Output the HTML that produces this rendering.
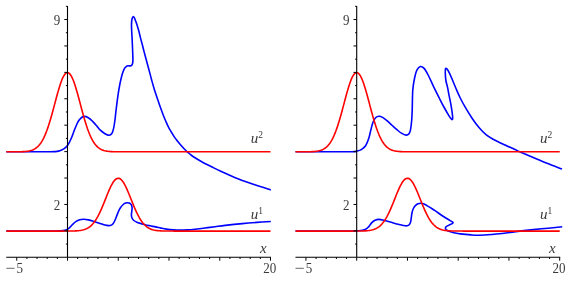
<!DOCTYPE html>
<html><head><meta charset="utf-8"><title>plot</title>
<style>
html,body{margin:0;padding:0;background:#fff;}
body{width:575px;height:282px;overflow:hidden;}
svg{display:block;will-change:transform;}
text{font-family:"Liberation Serif",serif;fill:#3a3a3a;}
.n{font-size:14.5px;}
.i{font-size:15px;font-style:italic;}
.s{font-size:9.5px;font-style:normal;}
</style></head><body>
<svg width="575" height="282" viewBox="0 0 575 282">
<rect width="575" height="282" fill="#fff"/>
<path d="M6.30 151.70 C10.25 151.70 22.72 151.70 30.00 151.70 C37.28 151.70 45.25 151.80 50.00 151.70 C54.75 151.60 56.20 151.57 58.50 151.10 C60.80 150.63 62.27 149.87 63.80 148.90 C65.33 147.93 66.45 147.07 67.70 145.30 C68.95 143.53 70.17 140.88 71.30 138.30 C72.43 135.72 73.43 132.47 74.50 129.80 C75.57 127.13 76.63 124.25 77.70 122.30 C78.77 120.35 79.85 119.08 80.90 118.10 C81.95 117.12 82.77 116.47 84.00 116.40 C85.23 116.33 86.87 116.88 88.30 117.70 C89.73 118.52 91.18 119.93 92.60 121.30 C94.02 122.67 95.52 124.42 96.80 125.90 C98.08 127.38 98.93 128.90 100.30 130.20 C101.67 131.50 103.55 132.87 105.00 133.70 C106.45 134.53 107.83 135.28 109.00 135.20 C110.17 135.12 111.23 134.33 112.00 133.20 C112.77 132.07 113.12 130.52 113.60 128.40 C114.08 126.28 114.52 123.30 114.90 120.50 C115.28 117.70 115.55 114.57 115.90 111.60 C116.25 108.63 116.62 105.65 117.00 102.70 C117.38 99.75 117.72 97.02 118.20 93.90 C118.68 90.78 119.38 86.70 119.90 84.00 C120.42 81.30 120.83 79.58 121.30 77.70 C121.77 75.82 122.18 74.20 122.70 72.70 C123.22 71.20 123.82 69.72 124.40 68.70 C124.98 67.68 125.58 67.08 126.20 66.60 C126.82 66.12 127.45 65.92 128.10 65.80 C128.75 65.68 129.53 65.95 130.10 65.90 C130.67 65.85 131.10 65.85 131.50 65.50 C131.90 65.15 132.27 64.62 132.50 63.80 C132.73 62.98 132.85 61.95 132.90 60.60 C132.95 59.25 132.85 57.47 132.80 55.70 C132.75 53.93 132.72 52.88 132.60 50.00 C132.48 47.12 132.25 41.52 132.10 38.40 C131.95 35.28 131.80 33.67 131.70 31.30 C131.60 28.93 131.45 26.25 131.50 24.20 C131.55 22.15 131.72 20.27 132.00 19.00 C132.28 17.73 132.80 16.80 133.20 16.60 C133.60 16.40 134.07 17.25 134.40 17.80 C134.73 18.35 134.80 18.83 135.20 19.90 C135.60 20.97 136.18 22.30 136.80 24.20 C137.42 26.10 138.27 28.93 138.90 31.30 C139.53 33.67 140.02 36.12 140.60 38.40 C141.18 40.68 141.80 42.72 142.40 45.00 C143.00 47.28 143.58 49.73 144.20 52.10 C144.82 54.47 145.47 56.83 146.10 59.20 C146.73 61.57 147.37 63.93 148.00 66.30 C148.63 68.67 149.28 71.08 149.90 73.40 C150.52 75.72 150.98 77.62 151.70 80.20 C152.42 82.78 153.30 85.98 154.20 88.90 C155.10 91.82 156.12 94.75 157.10 97.70 C158.08 100.65 159.07 103.68 160.10 106.60 C161.13 109.52 162.38 112.85 163.30 115.20 C164.22 117.55 164.73 118.72 165.60 120.70 C166.47 122.68 167.55 125.22 168.50 127.10 C169.45 128.98 170.37 130.42 171.30 132.00 C172.23 133.58 173.15 135.18 174.10 136.60 C175.05 138.02 175.93 139.13 177.00 140.50 C178.07 141.87 179.32 143.42 180.50 144.80 C181.68 146.18 183.03 147.67 184.10 148.80 C185.17 149.93 185.95 150.73 186.90 151.60 C187.85 152.47 188.78 153.18 189.80 154.00 C190.82 154.82 190.87 155.13 193.00 156.50 C195.13 157.87 199.23 160.35 202.60 162.20 C205.97 164.05 210.17 166.10 213.20 167.60 C216.23 169.10 216.57 169.30 220.80 171.20 C225.03 173.10 232.68 176.65 238.60 179.00 C244.52 181.35 250.93 183.48 256.30 185.30 C261.67 187.12 268.38 189.13 270.80 189.90" stroke="#00f" stroke-width="1.6" fill="none" stroke-linejoin="round"/>
<path d="M6.30 231.00 C10.25 231.00 21.88 230.98 30.00 231.00 C38.12 231.02 49.18 231.22 55.00 231.10 C60.82 230.98 62.62 230.75 64.90 230.30 C67.18 229.85 67.45 229.35 68.70 228.40 C69.95 227.45 71.17 225.77 72.40 224.60 C73.63 223.43 74.87 222.22 76.10 221.40 C77.33 220.58 78.55 220.07 79.80 219.70 C81.05 219.33 82.15 219.17 83.60 219.20 C85.05 219.23 86.65 219.48 88.50 219.90 C90.35 220.32 92.78 221.12 94.70 221.70 C96.62 222.28 98.28 222.83 100.00 223.40 C101.72 223.97 103.58 224.73 105.00 225.10 C106.42 225.47 107.43 225.60 108.50 225.60 C109.57 225.60 110.57 225.52 111.40 225.10 C112.23 224.68 112.87 223.98 113.50 223.10 C114.13 222.22 114.65 221.05 115.20 219.80 C115.75 218.55 116.25 217.02 116.80 215.60 C117.35 214.18 117.87 212.65 118.50 211.30 C119.13 209.95 119.82 208.63 120.60 207.50 C121.38 206.37 122.37 205.23 123.20 204.50 C124.03 203.77 124.85 203.40 125.60 203.10 C126.35 202.80 127.00 202.68 127.70 202.70 C128.40 202.72 129.18 202.83 129.80 203.20 C130.42 203.57 131.02 204.13 131.40 204.90 C131.78 205.67 132.03 206.73 132.10 207.80 C132.17 208.87 131.92 210.12 131.80 211.30 C131.68 212.48 131.37 213.78 131.40 214.90 C131.43 216.02 131.60 217.07 132.00 218.00 C132.40 218.93 132.98 219.80 133.80 220.50 C134.62 221.20 135.78 221.72 136.90 222.20 C138.02 222.68 139.15 222.98 140.50 223.40 C141.85 223.82 143.42 224.30 145.00 224.70 C146.58 225.10 148.23 225.43 150.00 225.80 C151.77 226.17 153.77 226.52 155.60 226.90 C157.43 227.28 159.22 227.73 161.00 228.10 C162.78 228.47 164.18 228.80 166.30 229.10 C168.42 229.40 171.40 229.72 173.70 229.90 C176.00 230.08 177.78 230.15 180.10 230.15 C182.42 230.15 185.12 230.06 187.60 229.90 C190.08 229.74 192.10 229.52 195.00 229.20 C197.90 228.88 201.67 228.42 205.00 228.00 C208.33 227.58 211.63 227.13 215.00 226.70 C218.37 226.27 220.65 225.92 225.20 225.40 C229.75 224.88 237.02 224.10 242.30 223.60 C247.58 223.10 252.15 222.75 256.90 222.40 C261.65 222.05 268.48 221.65 270.80 221.50" stroke="#00f" stroke-width="1.6" fill="none" stroke-linejoin="round"/>
<path d="M6.30 151.82 L7.31 151.82 L8.33 151.82 L9.34 151.82 L10.36 151.82 L11.38 151.82 L12.39 151.81 L13.41 151.81 L14.42 151.81 L15.44 151.80 L16.46 151.79 L17.47 151.78 L18.49 151.77 L19.51 151.75 L20.52 151.73 L21.54 151.70 L22.55 151.66 L23.57 151.61 L24.59 151.55 L25.60 151.47 L26.62 151.36 L27.64 151.23 L28.65 151.06 L29.67 150.86 L30.68 150.60 L31.70 150.29 L32.72 149.92 L33.73 149.46 L34.75 148.91 L35.76 148.26 L36.78 147.49 L37.80 146.59 L38.81 145.54 L39.83 144.33 L40.85 142.94 L41.86 141.36 L42.88 139.58 L43.89 137.59 L44.91 135.37 L45.93 132.93 L46.94 130.27 L47.96 127.39 L48.97 124.29 L49.99 121.00 L51.01 117.54 L52.02 113.93 L53.04 110.21 L54.06 106.41 L55.07 102.58 L56.09 98.76 L57.10 95.01 L58.12 91.38 L59.14 87.93 L60.15 84.71 L61.17 81.77 L62.18 79.17 L63.20 76.95 L64.22 75.15 L65.23 73.80 L66.25 72.94 L67.27 72.57 L68.28 72.71 L69.30 73.35 L70.31 74.47 L71.33 76.06 L72.35 78.09 L73.36 80.53 L74.38 83.31 L75.40 86.41 L76.41 89.76 L77.43 93.32 L78.44 97.02 L79.46 100.81 L80.48 104.64 L81.49 108.46 L82.51 112.23 L83.52 115.89 L84.54 119.43 L85.56 122.80 L86.57 125.98 L87.59 128.97 L88.61 131.73 L89.62 134.27 L90.64 136.59 L91.65 138.69 L92.67 140.57 L93.69 142.24 L94.70 143.71 L95.72 145.01 L96.73 146.13 L97.75 147.10 L98.77 147.92 L99.78 148.63 L100.80 149.22 L101.82 149.72 L102.83 150.13 L103.85 150.47 L104.86 150.75 L105.88 150.97 L106.90 151.16 L107.91 151.30 L108.93 151.42 L109.94 151.51 L110.96 151.58 L111.98 151.64 L112.99 151.69 L114.01 151.72 L115.03 151.74 L116.04 151.76 L117.06 151.78 L118.07 151.79 L119.09 151.80 L120.11 151.80 L121.12 151.81 L122.14 151.81 L123.16 151.81 L124.17 151.82 L125.19 151.82 L126.20 151.82 L127.22 151.82 L128.24 151.82 L129.25 151.82 L130.27 151.82 L131.28 151.82 L132.30 151.82 L133.32 151.82 L134.33 151.82 L135.35 151.82 L136.37 151.82 L137.38 151.82 L138.40 151.82 L139.41 151.82 L140.43 151.82 L141.45 151.82 L142.46 151.82 L143.48 151.82 L144.49 151.82 L145.51 151.82 L146.53 151.82 L147.54 151.82 L148.56 151.82 L149.58 151.82 L150.59 151.82 L151.61 151.82 L152.62 151.82 L153.64 151.82 L154.66 151.82 L155.67 151.82 L156.69 151.82 L157.71 151.82 L158.72 151.82 L159.74 151.82 L160.75 151.82 L161.77 151.82 L162.79 151.82 L163.80 151.82 L164.82 151.82 L165.83 151.82 L166.85 151.82 L167.87 151.82 L168.88 151.82 L169.90 151.82 L170.92 151.82 L171.93 151.82 L172.95 151.82 L173.96 151.82 L174.98 151.82 L176.00 151.82 L177.01 151.82 L178.03 151.82 L179.04 151.82 L180.06 151.82 L181.08 151.82 L182.09 151.82 L183.11 151.82 L184.13 151.82 L185.14 151.82 L186.16 151.82 L187.17 151.82 L188.19 151.82 L189.21 151.82 L190.22 151.82 L191.24 151.82 L192.25 151.82 L193.27 151.82 L194.29 151.82 L195.30 151.82 L196.32 151.82 L197.34 151.82 L198.35 151.82 L199.37 151.82 L200.38 151.82 L201.40 151.82 L202.42 151.82 L203.43 151.82 L204.45 151.82 L205.47 151.82 L206.48 151.82 L207.50 151.82 L208.51 151.82 L209.53 151.82 L210.55 151.82 L211.56 151.82 L212.58 151.82 L213.59 151.82 L214.61 151.82 L215.63 151.82 L216.64 151.82 L217.66 151.82 L218.68 151.82 L219.69 151.82 L220.71 151.82 L221.72 151.82 L222.74 151.82 L223.76 151.82 L224.77 151.82 L225.79 151.82 L226.80 151.82 L227.82 151.82 L228.84 151.82 L229.85 151.82 L230.87 151.82 L231.89 151.82 L232.90 151.82 L233.92 151.82 L234.93 151.82 L235.95 151.82 L236.97 151.82 L237.98 151.82 L239.00 151.82 L240.01 151.82 L241.03 151.82 L242.05 151.82 L243.06 151.82 L244.08 151.82 L245.10 151.82 L246.11 151.82 L247.13 151.82 L248.14 151.82 L249.16 151.82 L250.18 151.82 L251.19 151.82 L252.21 151.82 L253.23 151.82 L254.24 151.82 L255.26 151.82 L256.27 151.82 L257.29 151.82 L258.31 151.82 L259.32 151.82 L260.34 151.82 L261.35 151.82 L262.37 151.82 L263.39 151.82 L264.40 151.82 L265.42 151.82 L266.44 151.82 L267.45 151.82 L268.47 151.82 L269.48 151.82 L270.50 151.82" stroke="#f00" stroke-width="1.6" fill="none"/>
<path d="M6.30 231.08 L7.31 231.08 L8.33 231.08 L9.34 231.08 L10.36 231.08 L11.38 231.08 L12.39 231.08 L13.41 231.08 L14.42 231.08 L15.44 231.08 L16.46 231.08 L17.47 231.08 L18.49 231.08 L19.51 231.08 L20.52 231.08 L21.54 231.08 L22.55 231.08 L23.57 231.08 L24.59 231.08 L25.60 231.08 L26.62 231.08 L27.64 231.08 L28.65 231.08 L29.67 231.08 L30.68 231.08 L31.70 231.08 L32.72 231.08 L33.73 231.08 L34.75 231.08 L35.76 231.08 L36.78 231.08 L37.80 231.08 L38.81 231.08 L39.83 231.08 L40.85 231.08 L41.86 231.08 L42.88 231.08 L43.89 231.08 L44.91 231.08 L45.93 231.08 L46.94 231.08 L47.96 231.08 L48.97 231.08 L49.99 231.08 L51.01 231.08 L52.02 231.08 L53.04 231.08 L54.06 231.08 L55.07 231.08 L56.09 231.08 L57.10 231.08 L58.12 231.08 L59.14 231.08 L60.15 231.08 L61.17 231.08 L62.18 231.08 L63.20 231.08 L64.22 231.07 L65.23 231.07 L66.25 231.07 L67.27 231.06 L68.28 231.06 L69.30 231.05 L70.31 231.04 L71.33 231.02 L72.35 231.00 L73.36 230.97 L74.38 230.94 L75.40 230.90 L76.41 230.84 L77.43 230.77 L78.44 230.68 L79.46 230.57 L80.48 230.43 L81.49 230.26 L82.51 230.05 L83.52 229.79 L84.54 229.49 L85.56 229.12 L86.57 228.68 L87.59 228.16 L88.61 227.56 L89.62 226.85 L90.64 226.04 L91.65 225.11 L92.67 224.04 L93.69 222.85 L94.70 221.51 L95.72 220.02 L96.73 218.39 L97.75 216.61 L98.77 214.67 L99.78 212.60 L100.80 210.41 L101.82 208.09 L102.83 205.68 L103.85 203.19 L104.86 200.66 L105.88 198.10 L106.90 195.56 L107.91 193.07 L108.93 190.65 L109.94 188.36 L110.96 186.22 L111.98 184.27 L112.99 182.55 L114.01 181.09 L115.03 179.91 L116.04 179.03 L117.06 178.47 L118.07 178.25 L119.09 178.35 L120.11 178.80 L121.12 179.57 L122.14 180.65 L123.16 182.02 L124.17 183.65 L125.19 185.52 L126.20 187.60 L127.22 189.84 L128.24 192.22 L129.25 194.69 L130.27 197.22 L131.28 199.78 L132.30 202.32 L133.32 204.83 L134.33 207.27 L135.35 209.62 L136.37 211.86 L137.38 213.97 L138.40 215.95 L139.41 217.79 L140.43 219.48 L141.45 221.01 L142.46 222.40 L143.48 223.65 L144.49 224.75 L145.51 225.73 L146.53 226.58 L147.54 227.33 L148.56 227.96 L149.58 228.51 L150.59 228.98 L151.61 229.37 L152.62 229.69 L153.64 229.97 L154.66 230.19 L155.67 230.37 L156.69 230.52 L157.71 230.64 L158.72 230.74 L159.74 230.82 L160.75 230.88 L161.77 230.93 L162.79 230.96 L163.80 230.99 L164.82 231.01 L165.83 231.03 L166.85 231.04 L167.87 231.05 L168.88 231.06 L169.90 231.07 L170.92 231.07 L171.93 231.07 L172.95 231.07 L173.96 231.08 L174.98 231.08 L176.00 231.08 L177.01 231.08 L178.03 231.08 L179.04 231.08 L180.06 231.08 L181.08 231.08 L182.09 231.08 L183.11 231.08 L184.13 231.08 L185.14 231.08 L186.16 231.08 L187.17 231.08 L188.19 231.08 L189.21 231.08 L190.22 231.08 L191.24 231.08 L192.25 231.08 L193.27 231.08 L194.29 231.08 L195.30 231.08 L196.32 231.08 L197.34 231.08 L198.35 231.08 L199.37 231.08 L200.38 231.08 L201.40 231.08 L202.42 231.08 L203.43 231.08 L204.45 231.08 L205.47 231.08 L206.48 231.08 L207.50 231.08 L208.51 231.08 L209.53 231.08 L210.55 231.08 L211.56 231.08 L212.58 231.08 L213.59 231.08 L214.61 231.08 L215.63 231.08 L216.64 231.08 L217.66 231.08 L218.68 231.08 L219.69 231.08 L220.71 231.08 L221.72 231.08 L222.74 231.08 L223.76 231.08 L224.77 231.08 L225.79 231.08 L226.80 231.08 L227.82 231.08 L228.84 231.08 L229.85 231.08 L230.87 231.08 L231.89 231.08 L232.90 231.08 L233.92 231.08 L234.93 231.08 L235.95 231.08 L236.97 231.08 L237.98 231.08 L239.00 231.08 L240.01 231.08 L241.03 231.08 L242.05 231.08 L243.06 231.08 L244.08 231.08 L245.10 231.08 L246.11 231.08 L247.13 231.08 L248.14 231.08 L249.16 231.08 L250.18 231.08 L251.19 231.08 L252.21 231.08 L253.23 231.08 L254.24 231.08 L255.26 231.08 L256.27 231.08 L257.29 231.08 L258.31 231.08 L259.32 231.08 L260.34 231.08 L261.35 231.08 L262.37 231.08 L263.39 231.08 L264.40 231.08 L265.42 231.08 L266.44 231.08 L267.45 231.08 L268.47 231.08 L269.48 231.08 L270.50 231.08" stroke="#f00" stroke-width="1.6" fill="none"/>
<path d="M6.25 257.3H271.00 M67.50 6V257.3" stroke="#000" stroke-width="1.1" fill="none"/>
<path d="M16.75 257.3v3.4M26.90 257.3v1.7M37.05 257.3v1.7M47.20 257.3v1.7M57.35 257.3v1.7M67.50 257.3v3.4M77.65 257.3v1.7M87.80 257.3v1.7M97.95 257.3v1.7M108.10 257.3v1.7M118.25 257.3v3.4M128.40 257.3v1.7M138.55 257.3v1.7M148.70 257.3v1.7M158.85 257.3v1.7M169.00 257.3v3.4M179.15 257.3v1.7M189.30 257.3v1.7M199.45 257.3v1.7M209.60 257.3v1.7M219.75 257.3v3.4M229.90 257.3v1.7M240.05 257.3v1.7M250.20 257.3v1.7M260.35 257.3v1.7M270.50 257.3v3.4M67.50 244.09h-1.6M67.50 230.88h-3.2M67.50 217.67h-1.6M67.50 204.46h-3.2M67.50 191.25h-1.6M67.50 178.04h-3.2M67.50 164.83h-1.6M67.50 151.62h-3.2M67.50 138.41h-1.6M67.50 125.20h-3.2M67.50 111.99h-1.6M67.50 98.78h-3.2M67.50 85.57h-1.6M67.50 72.36h-3.2M67.50 59.15h-1.6M67.50 45.94h-3.2M67.50 32.73h-1.6M67.50 19.52h-3.2M67.50 6.31h-1.6" stroke="#000" stroke-width="1" fill="none"/>
<text transform="translate(57.00 24.60) scale(0.9 1)" class="n" text-anchor="middle">9</text>
<text transform="translate(57.00 210.20) scale(0.9 1)" class="n" text-anchor="middle">2</text>
<path d="M6.30 268.3h8.3" stroke="#444" stroke-width="0.8" fill="none"/>
<text transform="translate(19.70 272.70) scale(0.9 1)" class="n" text-anchor="middle">5</text>
<text transform="translate(269.80 272.70) scale(0.9 1)" class="n" text-anchor="middle">20</text>
<text x="259.9" y="252.6" class="i">x</text>
<text x="250.8" y="143" class="i">u<tspan class="s" dy="-4.8">2</tspan></text>
<text x="250.8" y="219.4" class="i">u<tspan class="s" dy="-5.4">1</tspan></text>
<path d="M295.50 151.70 C299.58 151.70 312.75 151.70 320.00 151.70 C327.25 151.70 333.70 151.70 339.00 151.70 C344.30 151.70 348.78 151.80 351.80 151.70 C354.82 151.60 355.52 151.45 357.10 151.10 C358.68 150.75 359.88 150.50 361.30 149.60 C362.72 148.70 364.35 147.58 365.60 145.70 C366.85 143.82 367.92 140.95 368.80 138.30 C369.68 135.65 370.20 132.47 370.90 129.80 C371.60 127.13 372.22 124.32 373.00 122.30 C373.78 120.28 374.60 118.72 375.60 117.70 C376.60 116.68 377.83 116.25 379.00 116.20 C380.17 116.15 381.28 116.67 382.60 117.40 C383.92 118.13 385.30 119.25 386.90 120.60 C388.50 121.95 390.43 123.90 392.20 125.50 C393.97 127.10 395.90 128.88 397.50 130.20 C399.10 131.52 400.38 132.58 401.80 133.40 C403.22 134.22 404.83 135.00 406.00 135.10 C407.17 135.20 408.05 134.88 408.80 134.00 C409.55 133.12 410.03 131.92 410.50 129.80 C410.97 127.68 411.32 124.50 411.60 121.30 C411.88 118.10 412.00 115.87 412.20 110.60 C412.40 105.33 412.37 95.30 412.80 89.70 C413.23 84.10 414.10 80.30 414.80 77.00 C415.50 73.70 416.07 71.65 417.00 69.90 C417.93 68.15 419.22 66.75 420.40 66.50 C421.58 66.25 422.77 66.90 424.10 68.40 C425.43 69.90 426.80 72.42 428.40 75.50 C430.00 78.58 431.85 83.07 433.70 86.90 C435.55 90.73 437.80 95.15 439.50 98.50 C441.20 101.85 442.42 104.28 443.90 107.00 C445.38 109.72 447.17 112.78 448.40 114.80 C449.63 116.82 450.63 118.32 451.30 119.10 C451.97 119.88 452.17 119.73 452.40 119.50 C452.63 119.27 452.77 119.07 452.70 117.70 C452.63 116.33 452.35 113.78 452.00 111.30 C451.65 108.82 451.08 105.40 450.60 102.80 C450.12 100.20 449.60 98.23 449.10 95.70 C448.60 93.17 448.13 90.13 447.60 87.60 C447.07 85.07 446.28 82.87 445.90 80.50 C445.52 78.13 445.35 75.40 445.30 73.40 C445.25 71.40 445.20 69.08 445.60 68.50 C446.00 67.92 446.98 68.97 447.70 69.90 C448.42 70.83 449.07 72.33 449.90 74.10 C450.73 75.87 451.65 78.02 452.70 80.50 C453.75 82.98 454.90 86.00 456.20 89.00 C457.50 92.00 458.95 95.38 460.50 98.50 C462.05 101.62 463.60 104.45 465.50 107.70 C467.40 110.95 469.65 114.68 471.90 118.00 C474.15 121.32 476.65 124.82 479.00 127.60 C481.35 130.38 483.65 132.75 486.00 134.70 C488.35 136.65 490.13 137.65 493.10 139.30 C496.07 140.95 500.25 142.95 503.80 144.60 C507.35 146.25 511.75 148.02 514.40 149.20 C517.05 150.38 516.75 150.40 519.70 151.70 C522.65 153.00 527.67 155.12 532.10 157.00 C536.53 158.88 541.32 161.00 546.30 163.00 C551.28 165.00 559.38 168.00 562.00 169.00" stroke="#00f" stroke-width="1.6" fill="none" stroke-linejoin="round"/>
<path d="M295.50 231.00 C299.58 231.00 311.92 230.98 320.00 231.00 C328.08 231.02 337.52 231.13 344.00 231.10 C350.48 231.07 355.38 231.05 358.90 230.80 C362.42 230.55 363.45 230.30 365.10 229.60 C366.75 228.90 367.68 227.77 368.80 226.60 C369.92 225.43 370.77 223.67 371.80 222.60 C372.83 221.53 373.83 220.73 375.00 220.20 C376.17 219.67 377.35 219.40 378.80 219.40 C380.25 219.40 381.63 219.72 383.70 220.20 C385.77 220.68 389.32 221.77 391.20 222.30 C393.08 222.83 393.65 223.03 395.00 223.40 C396.35 223.77 397.88 224.15 399.30 224.50 C400.72 224.85 402.20 225.28 403.50 225.50 C404.80 225.72 406.15 225.92 407.10 225.80 C408.05 225.68 408.62 225.43 409.20 224.80 C409.78 224.17 410.25 223.18 410.60 222.00 C410.95 220.82 411.07 219.25 411.30 217.70 C411.53 216.15 411.65 214.23 412.00 212.70 C412.35 211.17 412.80 209.72 413.40 208.50 C414.00 207.28 414.83 206.18 415.60 205.40 C416.37 204.62 417.18 204.17 418.00 203.80 C418.82 203.43 419.60 203.20 420.50 203.20 C421.40 203.20 422.33 203.40 423.40 203.80 C424.47 204.20 425.60 204.87 426.90 205.60 C428.20 206.33 429.85 207.37 431.20 208.20 C432.55 209.03 433.08 209.30 435.00 210.60 C436.92 211.90 440.23 214.37 442.70 216.00 C445.17 217.63 448.12 219.37 449.80 220.40 C451.48 221.43 452.35 221.70 452.80 222.20 C453.25 222.70 453.15 222.90 452.50 223.40 C451.85 223.90 449.93 224.67 448.90 225.20 C447.87 225.73 446.88 226.13 446.30 226.60 C445.72 227.07 445.40 227.47 445.40 228.00 C445.40 228.53 445.57 229.20 446.30 229.80 C447.03 230.40 448.33 231.07 449.80 231.60 C451.27 232.13 453.33 232.62 455.10 233.00 C456.87 233.38 457.77 233.58 460.40 233.90 C463.03 234.22 467.77 234.68 470.90 234.90 C474.03 235.12 475.72 235.27 479.20 235.20 C482.68 235.13 487.97 234.78 491.80 234.50 C495.63 234.22 498.73 233.88 502.20 233.50 C505.67 233.12 509.65 232.60 512.60 232.20 C515.55 231.80 516.42 231.53 519.90 231.10 C523.38 230.67 528.80 230.08 533.50 229.60 C538.20 229.12 543.32 228.68 548.10 228.20 C552.88 227.72 559.85 226.95 562.20 226.70" stroke="#00f" stroke-width="1.6" fill="none" stroke-linejoin="round"/>
<path d="M295.50 151.82 L296.51 151.82 L297.53 151.82 L298.54 151.82 L299.56 151.82 L300.58 151.82 L301.59 151.81 L302.61 151.81 L303.62 151.81 L304.64 151.80 L305.66 151.79 L306.67 151.78 L307.69 151.77 L308.71 151.75 L309.72 151.73 L310.74 151.70 L311.75 151.66 L312.77 151.61 L313.79 151.55 L314.80 151.47 L315.82 151.36 L316.84 151.23 L317.85 151.06 L318.87 150.86 L319.88 150.60 L320.90 150.29 L321.92 149.92 L322.93 149.46 L323.95 148.91 L324.96 148.26 L325.98 147.49 L327.00 146.59 L328.01 145.54 L329.03 144.33 L330.05 142.94 L331.06 141.36 L332.08 139.58 L333.09 137.59 L334.11 135.37 L335.13 132.93 L336.14 130.27 L337.16 127.39 L338.17 124.29 L339.19 121.00 L340.21 117.54 L341.22 113.93 L342.24 110.21 L343.26 106.41 L344.27 102.58 L345.29 98.76 L346.30 95.01 L347.32 91.38 L348.34 87.93 L349.35 84.71 L350.37 81.77 L351.38 79.17 L352.40 76.95 L353.42 75.15 L354.43 73.80 L355.45 72.94 L356.47 72.57 L357.48 72.71 L358.50 73.35 L359.51 74.47 L360.53 76.06 L361.55 78.09 L362.56 80.53 L363.58 83.31 L364.60 86.41 L365.61 89.76 L366.63 93.32 L367.64 97.02 L368.66 100.81 L369.68 104.64 L370.69 108.46 L371.71 112.23 L372.72 115.89 L373.74 119.43 L374.76 122.80 L375.77 125.98 L376.79 128.97 L377.81 131.73 L378.82 134.27 L379.84 136.59 L380.85 138.69 L381.87 140.57 L382.89 142.24 L383.90 143.71 L384.92 145.01 L385.93 146.13 L386.95 147.10 L387.97 147.92 L388.98 148.63 L390.00 149.22 L391.02 149.72 L392.03 150.13 L393.05 150.47 L394.06 150.75 L395.08 150.97 L396.10 151.16 L397.11 151.30 L398.13 151.42 L399.14 151.51 L400.16 151.58 L401.18 151.64 L402.19 151.69 L403.21 151.72 L404.23 151.74 L405.24 151.76 L406.26 151.78 L407.27 151.79 L408.29 151.80 L409.31 151.80 L410.32 151.81 L411.34 151.81 L412.36 151.81 L413.37 151.82 L414.39 151.82 L415.40 151.82 L416.42 151.82 L417.44 151.82 L418.45 151.82 L419.47 151.82 L420.48 151.82 L421.50 151.82 L422.52 151.82 L423.53 151.82 L424.55 151.82 L425.57 151.82 L426.58 151.82 L427.60 151.82 L428.61 151.82 L429.63 151.82 L430.65 151.82 L431.66 151.82 L432.68 151.82 L433.69 151.82 L434.71 151.82 L435.73 151.82 L436.74 151.82 L437.76 151.82 L438.78 151.82 L439.79 151.82 L440.81 151.82 L441.82 151.82 L442.84 151.82 L443.86 151.82 L444.87 151.82 L445.89 151.82 L446.91 151.82 L447.92 151.82 L448.94 151.82 L449.95 151.82 L450.97 151.82 L451.99 151.82 L453.00 151.82 L454.02 151.82 L455.03 151.82 L456.05 151.82 L457.07 151.82 L458.08 151.82 L459.10 151.82 L460.12 151.82 L461.13 151.82 L462.15 151.82 L463.16 151.82 L464.18 151.82 L465.20 151.82 L466.21 151.82 L467.23 151.82 L468.24 151.82 L469.26 151.82 L470.28 151.82 L471.29 151.82 L472.31 151.82 L473.33 151.82 L474.34 151.82 L475.36 151.82 L476.37 151.82 L477.39 151.82 L478.41 151.82 L479.42 151.82 L480.44 151.82 L481.45 151.82 L482.47 151.82 L483.49 151.82 L484.50 151.82 L485.52 151.82 L486.54 151.82 L487.55 151.82 L488.57 151.82 L489.58 151.82 L490.60 151.82 L491.62 151.82 L492.63 151.82 L493.65 151.82 L494.67 151.82 L495.68 151.82 L496.70 151.82 L497.71 151.82 L498.73 151.82 L499.75 151.82 L500.76 151.82 L501.78 151.82 L502.79 151.82 L503.81 151.82 L504.83 151.82 L505.84 151.82 L506.86 151.82 L507.88 151.82 L508.89 151.82 L509.91 151.82 L510.92 151.82 L511.94 151.82 L512.96 151.82 L513.97 151.82 L514.99 151.82 L516.00 151.82 L517.02 151.82 L518.04 151.82 L519.05 151.82 L520.07 151.82 L521.09 151.82 L522.10 151.82 L523.12 151.82 L524.13 151.82 L525.15 151.82 L526.17 151.82 L527.18 151.82 L528.20 151.82 L529.21 151.82 L530.23 151.82 L531.25 151.82 L532.26 151.82 L533.28 151.82 L534.30 151.82 L535.31 151.82 L536.33 151.82 L537.34 151.82 L538.36 151.82 L539.38 151.82 L540.39 151.82 L541.41 151.82 L542.43 151.82 L543.44 151.82 L544.46 151.82 L545.47 151.82 L546.49 151.82 L547.51 151.82 L548.52 151.82 L549.54 151.82 L550.55 151.82 L551.57 151.82 L552.59 151.82 L553.60 151.82 L554.62 151.82 L555.64 151.82 L556.65 151.82 L557.67 151.82 L558.68 151.82 L559.70 151.82" stroke="#f00" stroke-width="1.6" fill="none"/>
<path d="M295.50 231.08 L296.51 231.08 L297.53 231.08 L298.54 231.08 L299.56 231.08 L300.58 231.08 L301.59 231.08 L302.61 231.08 L303.62 231.08 L304.64 231.08 L305.66 231.08 L306.67 231.08 L307.69 231.08 L308.71 231.08 L309.72 231.08 L310.74 231.08 L311.75 231.08 L312.77 231.08 L313.79 231.08 L314.80 231.08 L315.82 231.08 L316.84 231.08 L317.85 231.08 L318.87 231.08 L319.88 231.08 L320.90 231.08 L321.92 231.08 L322.93 231.08 L323.95 231.08 L324.96 231.08 L325.98 231.08 L327.00 231.08 L328.01 231.08 L329.03 231.08 L330.05 231.08 L331.06 231.08 L332.08 231.08 L333.09 231.08 L334.11 231.08 L335.13 231.08 L336.14 231.08 L337.16 231.08 L338.17 231.08 L339.19 231.08 L340.21 231.08 L341.22 231.08 L342.24 231.08 L343.26 231.08 L344.27 231.08 L345.29 231.08 L346.30 231.08 L347.32 231.08 L348.34 231.08 L349.35 231.08 L350.37 231.08 L351.38 231.08 L352.40 231.08 L353.42 231.07 L354.43 231.07 L355.45 231.07 L356.47 231.06 L357.48 231.06 L358.50 231.05 L359.51 231.04 L360.53 231.02 L361.55 231.00 L362.56 230.97 L363.58 230.94 L364.60 230.90 L365.61 230.84 L366.63 230.77 L367.64 230.68 L368.66 230.57 L369.68 230.43 L370.69 230.26 L371.71 230.05 L372.72 229.79 L373.74 229.49 L374.76 229.12 L375.77 228.68 L376.79 228.16 L377.81 227.56 L378.82 226.85 L379.84 226.04 L380.85 225.11 L381.87 224.04 L382.89 222.85 L383.90 221.51 L384.92 220.02 L385.93 218.39 L386.95 216.61 L387.97 214.67 L388.98 212.60 L390.00 210.41 L391.02 208.09 L392.03 205.68 L393.05 203.19 L394.06 200.66 L395.08 198.10 L396.10 195.56 L397.11 193.07 L398.13 190.65 L399.14 188.36 L400.16 186.22 L401.18 184.27 L402.19 182.55 L403.21 181.09 L404.23 179.91 L405.24 179.03 L406.26 178.47 L407.27 178.25 L408.29 178.35 L409.31 178.80 L410.32 179.57 L411.34 180.65 L412.36 182.02 L413.37 183.65 L414.39 185.52 L415.40 187.60 L416.42 189.84 L417.44 192.22 L418.45 194.69 L419.47 197.22 L420.48 199.78 L421.50 202.32 L422.52 204.83 L423.53 207.27 L424.55 209.62 L425.57 211.86 L426.58 213.97 L427.60 215.95 L428.61 217.79 L429.63 219.48 L430.65 221.01 L431.66 222.40 L432.68 223.65 L433.69 224.75 L434.71 225.73 L435.73 226.58 L436.74 227.33 L437.76 227.96 L438.78 228.51 L439.79 228.98 L440.81 229.37 L441.82 229.69 L442.84 229.97 L443.86 230.19 L444.87 230.37 L445.89 230.52 L446.91 230.64 L447.92 230.74 L448.94 230.82 L449.95 230.88 L450.97 230.93 L451.99 230.96 L453.00 230.99 L454.02 231.01 L455.03 231.03 L456.05 231.04 L457.07 231.05 L458.08 231.06 L459.10 231.07 L460.12 231.07 L461.13 231.07 L462.15 231.07 L463.16 231.08 L464.18 231.08 L465.20 231.08 L466.21 231.08 L467.23 231.08 L468.24 231.08 L469.26 231.08 L470.28 231.08 L471.29 231.08 L472.31 231.08 L473.33 231.08 L474.34 231.08 L475.36 231.08 L476.37 231.08 L477.39 231.08 L478.41 231.08 L479.42 231.08 L480.44 231.08 L481.45 231.08 L482.47 231.08 L483.49 231.08 L484.50 231.08 L485.52 231.08 L486.54 231.08 L487.55 231.08 L488.57 231.08 L489.58 231.08 L490.60 231.08 L491.62 231.08 L492.63 231.08 L493.65 231.08 L494.67 231.08 L495.68 231.08 L496.70 231.08 L497.71 231.08 L498.73 231.08 L499.75 231.08 L500.76 231.08 L501.78 231.08 L502.79 231.08 L503.81 231.08 L504.83 231.08 L505.84 231.08 L506.86 231.08 L507.88 231.08 L508.89 231.08 L509.91 231.08 L510.92 231.08 L511.94 231.08 L512.96 231.08 L513.97 231.08 L514.99 231.08 L516.00 231.08 L517.02 231.08 L518.04 231.08 L519.05 231.08 L520.07 231.08 L521.09 231.08 L522.10 231.08 L523.12 231.08 L524.13 231.08 L525.15 231.08 L526.17 231.08 L527.18 231.08 L528.20 231.08 L529.21 231.08 L530.23 231.08 L531.25 231.08 L532.26 231.08 L533.28 231.08 L534.30 231.08 L535.31 231.08 L536.33 231.08 L537.34 231.08 L538.36 231.08 L539.38 231.08 L540.39 231.08 L541.41 231.08 L542.43 231.08 L543.44 231.08 L544.46 231.08 L545.47 231.08 L546.49 231.08 L547.51 231.08 L548.52 231.08 L549.54 231.08 L550.55 231.08 L551.57 231.08 L552.59 231.08 L553.60 231.08 L554.62 231.08 L555.64 231.08 L556.65 231.08 L557.67 231.08 L558.68 231.08 L559.70 231.08" stroke="#f00" stroke-width="1.6" fill="none"/>
<path d="M295.45 257.3H560.20 M356.70 6V257.3" stroke="#000" stroke-width="1.1" fill="none"/>
<path d="M305.95 257.3v3.4M316.10 257.3v1.7M326.25 257.3v1.7M336.40 257.3v1.7M346.55 257.3v1.7M356.70 257.3v3.4M366.85 257.3v1.7M377.00 257.3v1.7M387.15 257.3v1.7M397.30 257.3v1.7M407.45 257.3v3.4M417.60 257.3v1.7M427.75 257.3v1.7M437.90 257.3v1.7M448.05 257.3v1.7M458.20 257.3v3.4M468.35 257.3v1.7M478.50 257.3v1.7M488.65 257.3v1.7M498.80 257.3v1.7M508.95 257.3v3.4M519.10 257.3v1.7M529.25 257.3v1.7M539.40 257.3v1.7M549.55 257.3v1.7M559.70 257.3v3.4M356.70 244.09h-1.6M356.70 230.88h-3.2M356.70 217.67h-1.6M356.70 204.46h-3.2M356.70 191.25h-1.6M356.70 178.04h-3.2M356.70 164.83h-1.6M356.70 151.62h-3.2M356.70 138.41h-1.6M356.70 125.20h-3.2M356.70 111.99h-1.6M356.70 98.78h-3.2M356.70 85.57h-1.6M356.70 72.36h-3.2M356.70 59.15h-1.6M356.70 45.94h-3.2M356.70 32.73h-1.6M356.70 19.52h-3.2M356.70 6.31h-1.6" stroke="#000" stroke-width="1" fill="none"/>
<text transform="translate(346.20 24.60) scale(0.9 1)" class="n" text-anchor="middle">9</text>
<text transform="translate(346.20 210.20) scale(0.9 1)" class="n" text-anchor="middle">2</text>
<path d="M295.50 268.3h8.3" stroke="#444" stroke-width="0.8" fill="none"/>
<text transform="translate(308.90 272.70) scale(0.9 1)" class="n" text-anchor="middle">5</text>
<text transform="translate(559.00 272.70) scale(0.9 1)" class="n" text-anchor="middle">20</text>
<text x="549.1" y="252.6" class="i">x</text>
<text x="540.0" y="143" class="i">u<tspan class="s" dy="-4.8">2</tspan></text>
<text x="540.0" y="219.4" class="i">u<tspan class="s" dy="-5.4">1</tspan></text>
</svg>
</body></html>
